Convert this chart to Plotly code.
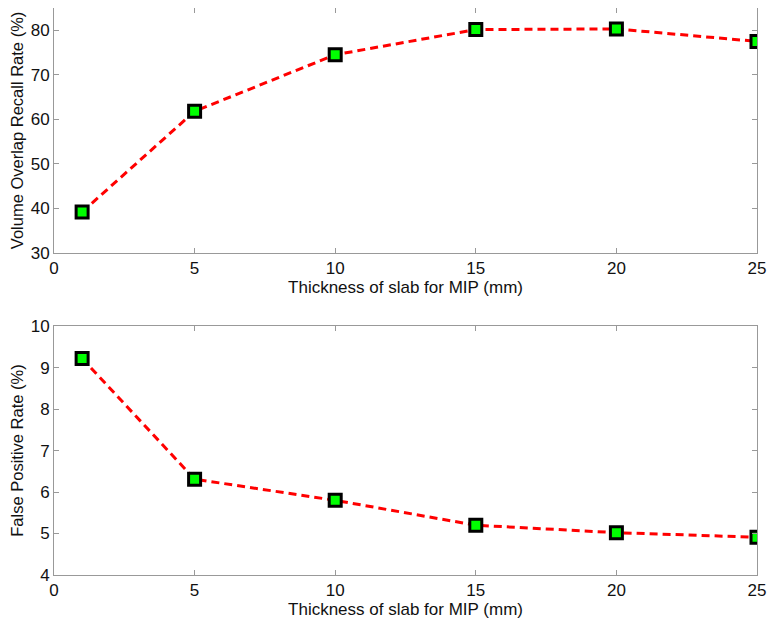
import plotly.graph_objects as go
from plotly.subplots import make_subplots

thickness = [1, 5, 10, 15, 20, 25]
recall = [39.2, 61.8, 74.5, 80.15, 80.3, 77.5]
false_pos = [9.22, 6.31, 5.8, 5.2, 5.02, 4.91]

fig = make_subplots(rows=2, cols=1)

marker = dict(symbol="square", size=12, color="#00ff00", line=dict(color="black", width=3))
line = dict(color="#ff0000", width=3, dash="8px,5px")

fig.add_trace(go.Scatter(x=thickness, y=recall, mode="lines+markers", marker=marker, line=line, showlegend=False), row=1, col=1)
fig.add_trace(go.Scatter(x=thickness, y=false_pos, mode="lines+markers", marker=marker, line=line, showlegend=False), row=2, col=1)

ff = "Liberation Sans, Arial, sans-serif"
axcommon = dict(showgrid=False, zeroline=False, showline=True, linecolor="#999", linewidth=1,
                mirror="ticks", ticks="inside", ticklen=5, tickcolor="#999", automargin=False,
                tickfont=dict(family=ff, size=17, color="#111"))

fig.update_xaxes(**axcommon, range=[0, 25], tickvals=[0, 5, 10, 15, 20, 25])
fig.update_xaxes(title=dict(text="Thickness of slab for MIP (mm)", font=dict(size=17), standoff=3), row=1, col=1)
fig.update_xaxes(title=dict(text="Thickness of slab for MIP (mm)", font=dict(size=17), standoff=3), row=2, col=1)
fig.update_yaxes(**axcommon)
fig.update_yaxes(range=[30, 85], tickvals=[30, 40, 50, 60, 70, 80],
                 title=dict(text="Volume Overlap Recall Rate (%)", font=dict(size=16.5), standoff=4), row=1, col=1)
fig.update_yaxes(range=[4, 10], tickvals=[4, 5, 6, 7, 8, 9, 10],
                 title=dict(text="False Positive Rate (%)", font=dict(size=16.5), standoff=4), row=2, col=1)

fig.update_layout(
    width=767, height=619,
    margin=dict(l=46, r=18, t=0, b=52, autoexpand=False),
    paper_bgcolor="white", plot_bgcolor="white",
    font=dict(family=ff, size=16, color="#111"),
    yaxis=dict(domain=[0.568, 1.0]),
    yaxis2=dict(domain=[0.0, 0.439]),
)

fig.write_html("out.html")
